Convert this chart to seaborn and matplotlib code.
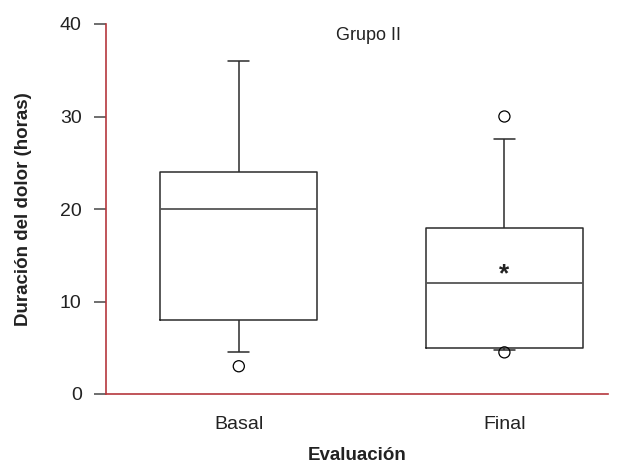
import matplotlib
matplotlib.use("Agg")
import matplotlib.pyplot as plt
import seaborn as sns
import pandas as pd

# ---- data ----
groups = ["Basal", "Final"]
whisker_low = [4.5, 4.8]
q1 = [8.0, 5.0]
median = [20.0, 12.0]
q3 = [24.0, 18.0]
whisker_high = [36.0, 27.6]
outlier_groups = ["Basal", "Final", "Final"]
outlier_values = [3.0, 30.0, 4.5]
star_groups = ["Final"]
star_values = [12.9]
y_ticks = [0, 10, 20, 30, 40]

title = "Grupo II"
xlabel = "Evaluación"
ylabel = "Duración del dolor (horas)"

# five-number summaries -> 5 points each; percentiles (0,25,50,75,100) reproduce them exactly
rows = []
for g, a, b, c, d, e in zip(groups, whisker_low, q1, median, q3, whisker_high):
    for v in (a, b, c, d, e):
        rows.append({"grupo": g, "valor": v})
box_df = pd.DataFrame(rows)
out_df = pd.DataFrame({"grupo": outlier_groups, "valor": outlier_values})

sns.set_theme(style="white")
plt.rcParams["font.family"] = ["Liberation Sans Narrow", "Liberation Sans", "DejaVu Sans"]

fig = plt.figure(figsize=(6.26, 4.71), dpi=100)
ax = fig.add_axes([106 / 626, 1 - 394 / 471, (608 - 106) / 626, (394 - 24) / 471])

line_col = "#2b2b2b"
sns.boxplot(data=box_df, x="grupo", y="valor", order=groups, whis=(0, 100),
            showfliers=False, fill=False, color=line_col, linewidth=1.1,
            width=0.59, capwidths=0.08, ax=ax,
            medianprops={"color": "#555555", "linewidth": 1.3})

sns.stripplot(data=out_df, x="grupo", y="valor", order=groups, jitter=False,
              color="black", facecolor="none", linewidth=0.9, size=8, ax=ax,
              zorder=5)

for g, v in zip(star_groups, star_values):
    ax.text(groups.index(g), v, "*", ha="center", va="center", fontsize=19,
            fontweight="bold", color="#222222")

ax.set_xlim(-0.5, 1.39)
ax.set_ylim(0, 40)
ax.set_yticks(y_ticks)
ax.set_yticklabels([str(t) for t in y_ticks])

red = "#b5373d"
for s in ("top", "right"):
    ax.spines[s].set_visible(False)
for s in ("left", "bottom"):
    ax.spines[s].set_visible(True)
    ax.spines[s].set_color(red)
    ax.spines[s].set_linewidth(1.2)

ax.tick_params(axis="y", direction="out", length=8.5, width=1.2, color="#555555",
               labelsize=14, labelcolor="#222222", pad=9, left=True)
ax.tick_params(axis="x", length=0, labelsize=14, labelcolor="#222222", pad=16)

ax.set_xlabel(xlabel, fontsize=13.5, fontweight="bold", color="#222222", labelpad=10)
ax.set_ylabel(ylabel, fontsize=13.5, fontweight="bold", color="#222222", labelpad=20)
ax.text(0.522, 0.968, title, transform=ax.transAxes, ha="center", va="center",
        fontsize=13, color="#222222")

fig.savefig("out.png", dpi=100)
